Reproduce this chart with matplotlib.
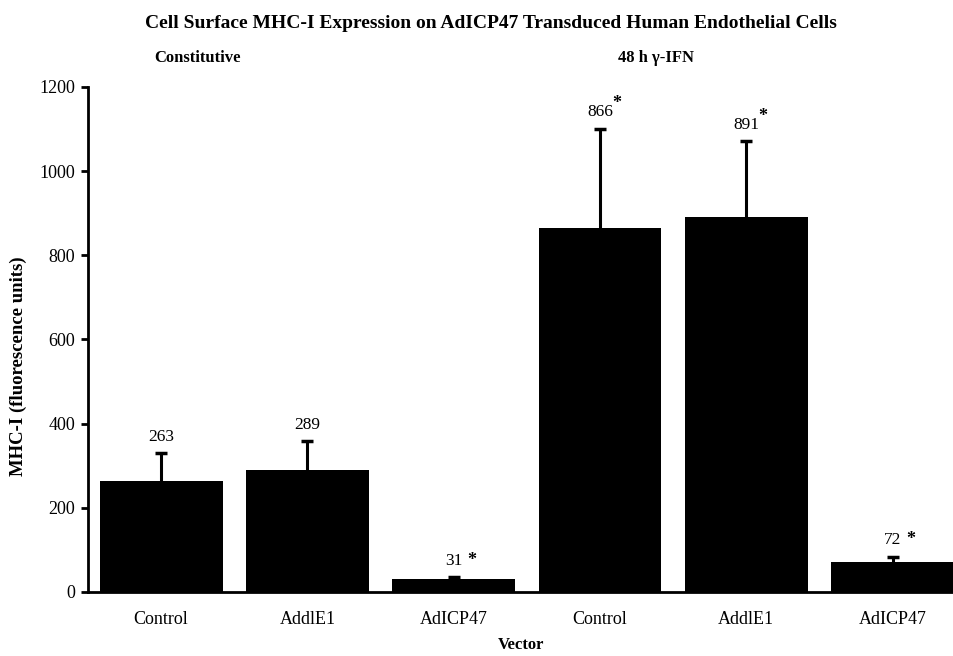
import numpy as np
import matplotlib
matplotlib.use("Agg")
import matplotlib.pyplot as plt

plt.rcParams['font.family'] = ['Liberation Serif', 'DejaVu Serif']

# data
vectors = ["Control", "AddlE1", "AdICP47", "Control", "AddlE1", "AdICP47"]
means = [263, 289, 31, 866, 891, 72]
errs = [67, 70, 4, 235, 180, 12]
value_labels = ["263", "289", "31", "866", "891", "72"]
stars = ["", "", "*", "*", "*", "*"]
groups = ["Constitutive", "48 h \u03b3-IFN"]

fig = plt.figure(figsize=(9.54, 6.56), dpi=100)
ax = fig.add_axes([0.0922, 0.0976, 0.9078, 0.7698])

x = np.arange(len(vectors))
ax.bar(x, means, width=0.84, color="black", zorder=2)
eb = ax.errorbar(x, means, yerr=[np.zeros(len(errs)), errs], fmt="none",
                 ecolor="black", elinewidth=2.2, capsize=4, capthick=2.5, zorder=1)
# only the upper cap is wanted
eb[1][0].set_visible(False)

# value labels over the error bars
for i in range(len(x)):
    top = means[i] + errs[i]
    ax.annotate(value_labels[i], (x[i], top), xytext=(0, 6), textcoords="offset points",
                ha="center", va="bottom", fontsize=12.5)
    if stars[i]:
        if means[i] > 500:
            # superscript star next to the big numbers
            ax.annotate("*", (x[i], top), xytext=(12, 12), textcoords="offset points",
                        ha="center", va="bottom", fontsize=13, fontweight="bold")
        else:
            ax.annotate("*", (x[i], top), xytext=(13, 6), textcoords="offset points",
                        ha="center", va="bottom", fontsize=13, fontweight="bold")

ax.set_xlim(-0.5, 5.42)
ax.set_ylim(0, 1200)
ax.set_yticks([0, 200, 400, 600, 800, 1000, 1200])
ax.set_xticks(x)
ax.set_xticklabels(vectors, fontsize=13)
ax.tick_params(axis="y", labelsize=13, direction="out", length=5, width=2, pad=4)
ax.tick_params(axis="x", length=0, pad=14)

for s in ["top", "right"]:
    ax.spines[s].set_visible(False)
ax.spines["left"].set_linewidth(2)
ax.spines["bottom"].set_linewidth(2)

ax.set_xlabel("Vector", fontsize=12, fontweight="bold", labelpad=6)
ax.set_ylabel("MHC-I (fluorescence units)", fontsize=13.5, fontweight="bold")
ax.yaxis.set_label_coords(-0.0704, 0.4475)

fig.text(0.515, 0.964, "Cell Surface MHC-I Expression on AdICP47 Transduced Human Endothelial Cells",
         ha="center", va="center", fontsize=14, fontweight="bold")
fig.text(0.207, 0.911, groups[0], ha="center", va="center", fontsize=12, fontweight="bold")
fig.text(0.688, 0.911, groups[1], ha="center", va="center", fontsize=12, fontweight="bold")

fig.savefig("out.png", dpi=100)
